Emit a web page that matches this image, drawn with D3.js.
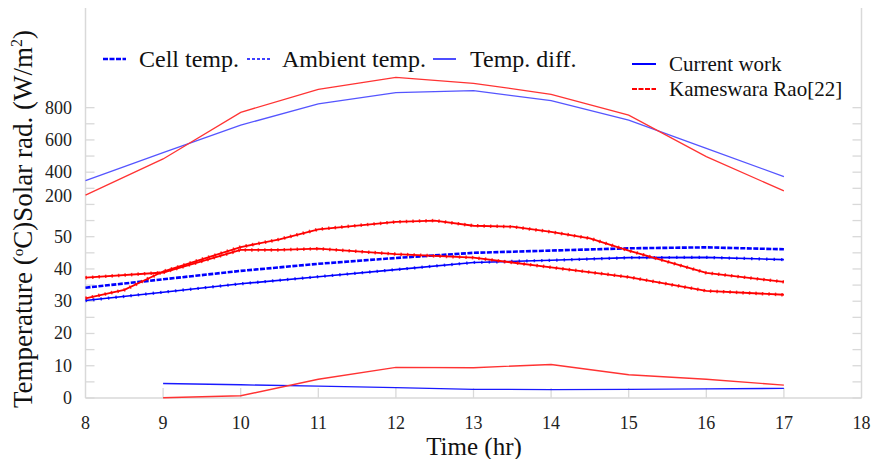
<html>
<head>
<script src='https://d3js.org/d3.v7.min.js'></script>
<style>
  body { margin: 0; background: white; }
  svg text { font-family: 'Liberation Serif', 'Times New Roman', serif; }
  .tick-label { font-size: 18px; fill: #222; }
  .leg { font-size: 24px; fill: #111; }
  .leg2 { font-size: 21px; fill: #111; }
</style>
</head>
<body>
<svg width=873 height=459></svg>
<script>
  // hours of the day
  var hours = [8, 9, 10, 11, 12, 13, 14, 15, 16, 17];
  var diffHours = [9, 10, 11, 12, 13, 14, 15, 16, 17];
  var raoCellHours = [8, 8.5, 9, 10, 10.5, 11, 12, 12.5, 13, 13.5, 14, 14.5, 15, 16, 17];
  var raoAmbHours = [8, 9, 10, 10.5, 11, 12, 13, 14, 15, 16, 17];

  // current work (blue)
  var curSolar = [330, 521, 692, 823, 893, 905, 843, 723, 548, 363];
  var curCell = [34.2, 36.8, 39.4, 41.6, 43.4, 45.0, 45.7, 46.4, 46.7, 46.1];
  var curAmb = [30.2, 32.8, 35.4, 37.6, 39.8, 42.0, 42.7, 43.5, 43.6, 42.9];
  var curDiff = [4.5, 4.1, 3.7, 3.2, 2.7, 2.6, 2.7, 2.8, 3.0];

  // Kameswara Rao[22] (red)
  var raoSolar = [211, 482, 771, 914, 988, 951, 883, 754, 496, 245];
  var raoCell = [30.9, 33.5, 39.2, 46.8, 49.2, 52.3, 54.6, 55.0, 53.4, 53.1, 51.5, 49.5, 45.7, 38.8, 36.0];
  var raoAmb = [37.3, 38.9, 45.9, 45.9, 46.3, 44.6, 43.5, 40.5, 37.5, 33.2, 32.0];
  var raoDiff = [0.1, 0.7, 5.8, 9.5, 9.4, 10.4, 7.2, 5.8, 4.0];

  var xTicks = [8, 9, 10, 11, 12, 13, 14, 15, 16, 17, 18];
  var tempTicks = [0, 10, 20, 30, 40, 50];
  var radTicks = [200, 400, 600, 800];
  var minorTicks = d3.range(0, 91, 5);

  var svg = d3.select("svg");
  var xs = d3.scaleLinear().domain([8, 18]).range([85.5, 861.5]);
  var ys = d3.scaleLinear().domain([0, 120]).range([398, 398 - 120 * 3.226]);
  // solar radiation is drawn on the same axis, with its own (hand placed) labels
  var rad = d3.scaleLinear().domain([200, 400, 600, 800]).range([62.5, 70, 80, 90]);

  var axisColor = "#d9d9d9";

  // frame
  svg.append("line").attr("x1", xs(8)).attr("x2", xs(8)).attr("y1", ys(0)).attr("y2", 8)
    .attr("stroke", axisColor).attr("stroke-width", 1.5);
  svg.append("line").attr("x1", xs(18)).attr("x2", xs(18)).attr("y1", ys(0)).attr("y2", 8)
    .attr("stroke", axisColor).attr("stroke-width", 1.5);
  svg.append("line").attr("x1", xs(8)).attr("x2", xs(18)).attr("y1", ys(0)).attr("y2", ys(0))
    .attr("stroke", axisColor).attr("stroke-width", 1.5);

  // inward ticks
  svg.append("g").selectAll("line").data(minorTicks).enter().append("line")
    .attr("x1", xs(8)).attr("x2", xs(8) + 9)
    .attr("y1", d => ys(d)).attr("y2", d => ys(d))
    .attr("stroke", axisColor).attr("stroke-width", 1.3);
  svg.append("g").selectAll("line").data(minorTicks).enter().append("line")
    .attr("x1", xs(18)).attr("x2", xs(18) - 9)
    .attr("y1", d => ys(d)).attr("y2", d => ys(d))
    .attr("stroke", axisColor).attr("stroke-width", 1.3);
  svg.append("g").selectAll("line").data(xTicks.slice(1, -1)).enter().append("line")
    .attr("x1", d => xs(d)).attr("x2", d => xs(d))
    .attr("y1", ys(0)).attr("y2", ys(0) - 10)
    .attr("stroke", axisColor).attr("stroke-width", 1.3);

  // tick labels
  svg.append("g").selectAll("text").data(xTicks).enter().append("text")
    .attr("class", "tick-label").attr("x", d => xs(d)).attr("y", 429)
    .attr("text-anchor", "middle").text(d => d);
  svg.append("g").selectAll("text").data(tempTicks).enter().append("text")
    .attr("class", "tick-label").attr("x", 72).attr("y", d => ys(d) + 6)
    .attr("text-anchor", "end").text(d => d);
  svg.append("g").selectAll("text").data(radTicks).enter().append("text")
    .attr("class", "tick-label").attr("x", 72).attr("y", d => ys(rad(d)) + 6)
    .attr("text-anchor", "end").text(d => d);

  // axis titles
  svg.append("text").attr("x", 474).attr("y", 455).attr("text-anchor", "middle")
    .style("font-size", "25px").attr("fill", "#111").text("Time (hr)");
  var yl = svg.append("text").attr("transform", "translate(32,219) rotate(-90)")
    .attr("text-anchor", "middle").style("font-size", "27px").attr("fill", "#111");
  yl.append("tspan").text("Temperature (");
  yl.append("tspan").attr("dy", -9).style("font-size", "15px").text("o");
  yl.append("tspan").attr("dy", 9).text("C)Solar rad. (W/m");
  yl.append("tspan").attr("dy", -10).style("font-size", "16px").text("2");
  yl.append("tspan").attr("dy", 10).text(")");

  function drawLine(xv, yv, color, opts) {
    var data = xv.map((h, i) => [h, yv[i]]);
    var line = d3.line().x(d => xs(d[0])).y(d => opts.map ? ys(opts.map(d[1])) : ys(d[1]));
    var p = svg.append("path").datum(data).attr("d", line).attr("fill", "none")
      .attr("stroke", color).attr("stroke-width", opts.w).attr("stroke-opacity", opts.op || 1);
    if (opts.dash) p.attr("stroke-dasharray", opts.dash);
    if (opts.dots) {
      svg.append("path").datum(data).attr("d", line).attr("fill", "none")
        .attr("stroke", color).attr("stroke-width", opts.dotW || 3.5)
        .attr("stroke-dasharray", opts.dots).attr("stroke-opacity", 0.8);
    }
  }

  // solar radiation
  drawLine(hours, curSolar, "#5555ff", {w: 1.3, map: rad});
  drawLine(hours, raoSolar, "#ff3333", {w: 1.3, map: rad});

  // temperature
  drawLine(hours, curCell, "#0000ff", {w: 2.6, dash: "5,1.5"});
  drawLine(hours, curAmb, "#0000ff", {w: 1.6, dots: "1.5,6", dotW: 3.2});
  drawLine(raoAmbHours, raoAmb, "#ff0000", {w: 1.8, dots: "1.5,5"});
  drawLine(raoCellHours, raoCell, "#ff0000", {w: 1.8, dots: "1.5,5"});

  // temperature difference
  drawLine(diffHours, curDiff, "#1a1aff", {w: 1.3});
  drawLine(diffHours, raoDiff, "#ff3333", {w: 1.4});

  // top legend (line styles)
  var lg = [
    {x: 103, tx: 139, label: "Cell temp.", w: 2.6, dash: "5,1.5"},
    {x: 247, tx: 282, label: "Ambient temp.", w: 1.4, dash: "3,2"},
    {x: 433, tx: 470, label: "Temp. diff.", w: 1.4, dash: null}
  ];
  lg.forEach(function (d) {
    var l = svg.append("line").attr("x1", d.x).attr("x2", d.x + 23).attr("y1", 59).attr("y2", 59)
      .attr("stroke", "#0000ff").attr("stroke-width", d.w);
    if (d.dash) l.attr("stroke-dasharray", d.dash);
    svg.append("text").attr("class", "leg").attr("x", d.tx).attr("y", 67).text(d.label);
  });

  // right legend (sources)
  svg.append("rect").attr("x", 628).attr("y", 48).attr("width", 222).attr("height", 54).attr("fill", "white");
  svg.append("line").attr("x1", 632).attr("x2", 656).attr("y1", 64).attr("y2", 64)
    .attr("stroke", "#0000ff").attr("stroke-width", 2);
  svg.append("text").attr("class", "leg2").attr("x", 669).attr("y", 71).text("Current work");
  svg.append("line").attr("x1", 632).attr("x2", 656).attr("y1", 89).attr("y2", 89)
    .attr("stroke", "#ff0000").attr("stroke-width", 2).attr("stroke-dasharray", "5,1.5");
  svg.append("text").attr("class", "leg2").attr("x", 669).attr("y", 96).text("Kameswara Rao[22]");
</script>
</body>
</html>
